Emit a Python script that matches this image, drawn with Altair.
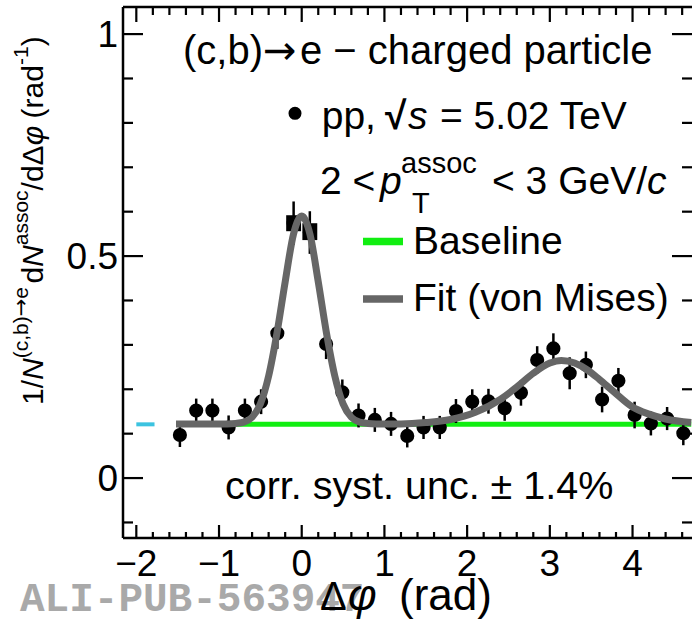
import altair as alt
import pandas as pd

# ---------------------------------------------------------------------------
# Data: (c,b)->e - charged particle azimuthal correlation, pp 5.02 TeV
# ---------------------------------------------------------------------------
dphi = [-1.473, -1.276, -1.080, -0.884, -0.687, -0.491, -0.295, -0.098,
        0.098, 0.295, 0.491, 0.687, 0.884, 1.080, 1.276, 1.473,
        1.669, 1.865, 2.062, 2.258, 2.454, 2.651, 2.847, 3.043,
        3.240, 3.436, 3.632, 3.829, 4.025, 4.222, 4.418, 4.614]
yields = [0.097, 0.152, 0.152, 0.114, 0.152, 0.172, 0.326, 0.574,
          0.553, 0.302, 0.193, 0.141, 0.131, 0.122, 0.095, 0.114,
          0.114, 0.151, 0.172, 0.173, 0.157, 0.192, 0.266, 0.292,
          0.236, 0.255, 0.177, 0.219, 0.142, 0.123, 0.134, 0.101]
stat_err = [0.027, 0.027, 0.027, 0.027, 0.027, 0.028, 0.035, 0.049,
            0.048, 0.034, 0.029, 0.027, 0.027, 0.027, 0.026, 0.026,
            0.026, 0.027, 0.028, 0.028, 0.028, 0.029, 0.031, 0.034,
            0.036, 0.030, 0.029, 0.029, 0.030, 0.027, 0.026, 0.027]

# systematic boxes large enough to stand out of the markers (near-side peak)
syst_x = [-0.098, 0.098]
syst_lo = [0.556, 0.536]
syst_hi = [0.592, 0.574]
syst_half_width = 0.09

# von Mises fit curve
fit_x = [-1.52, -1.2, -0.9, -0.8, -0.7, -0.6, -0.5, -0.4, -0.3, -0.2, -0.1,
         0.0, 0.1, 0.2, 0.3, 0.4, 0.5, 0.6, 0.7, 0.8, 0.9, 1.2, 1.5, 1.8,
         2.1, 2.4, 2.6, 2.8, 3.0, 3.14, 3.3, 3.45, 3.6, 3.77, 4.0, 4.2,
         4.4, 4.71]
fit_y = [0.122, 0.122, 0.122, 0.123, 0.126, 0.137, 0.167, 0.230, 0.326,
         0.442, 0.549, 0.590, 0.549, 0.442, 0.326, 0.230, 0.167, 0.137,
         0.126, 0.123, 0.122, 0.122, 0.125, 0.132, 0.148, 0.177, 0.205,
         0.236, 0.259, 0.265, 0.259, 0.244, 0.222, 0.195, 0.160, 0.144,
         0.133, 0.125]

# baseline level of the fit and its range
baseline_level = 0.121
baseline_range = [-1.52, 4.71]
baseline_marker_range = [-2.0, -1.78]

# axis ticks and their labels
x_major = [-2, -1, 0, 1, 2, 3, 4]
x_labels = ["−2", "−1", "0", "1", "2", "3", "4"]
x_minor = [-1.8, -1.6, -1.4, -1.2, -0.8, -0.6, -0.4, -0.2, 0.2, 0.4, 0.6,
           0.8, 1.2, 1.4, 1.6, 1.8, 2.2, 2.4, 2.6, 2.8, 3.2, 3.4, 3.6, 3.8,
           4.2, 4.4, 4.6]
y_major = [0, 0.5, 1]
y_labels = ["0", "0.5", "1"]
y_minor = [-0.1, 0.1, 0.2, 0.3, 0.4, 0.6, 0.7, 0.8, 0.9]

# ---------------------------------------------------------------------------
# Layout
# ---------------------------------------------------------------------------
PAD_L, PAD_T, PAD_B = 123, 7, 85
W, H = 569, 531
FONT = "Liberation Sans"
ARROW_FONT = "DejaVu Sans"
GRAY = "#666666"
GREEN = "#11ee11"

xs = alt.Scale(domain=[-2.161, 4.719], nice=False, zero=False)
ys = alt.Scale(domain=[-0.135, 1.061], nice=False, zero=False)

pts = pd.DataFrame({"dphi": dphi, "val": yields, "err": stat_err})
pts["lo"] = pts["val"] - pts["err"]
pts["hi"] = pts["val"] + pts["err"]

syst = pd.DataFrame({"x": syst_x, "lo": syst_lo, "hi": syst_hi})
syst["x1"] = syst["x"] - syst_half_width
syst["x2"] = syst["x"] + syst_half_width

fit = pd.DataFrame({"x": fit_x, "y": fit_y})
base = pd.DataFrame({"x": [baseline_range[0]], "x2": [baseline_range[1]],
                     "y": [baseline_level]})
base_mark = pd.DataFrame({"x": [baseline_marker_range[0]],
                          "x2": [baseline_marker_range[1]],
                          "y": [baseline_level]})

one = pd.DataFrame({"k": [0]})


def txt(s, x, y, size=39, italic=False, angle=0, color="black",
        font=FONT, bold=False):
    """Text placed at absolute page pixel (x = left, y = baseline)."""
    return alt.Chart(pd.DataFrame({"t": [s]})).mark_text(
        align="left", baseline="alphabetic", fontSize=size, font=font,
        fontStyle="italic" if italic else "normal",
        fontWeight="bold" if bold else "normal",
        angle=angle, color=color,
    ).encode(text="t:N", x=alt.value(x - PAD_L), y=alt.value(y - PAD_T))


layers = []

# baseline of the fit and its short marker on the left
layers.append(alt.Chart(base).mark_rule(strokeWidth=5, color=GREEN).encode(
    x=alt.X("x:Q", scale=xs, axis=None), x2="x2:Q",
    y=alt.Y("y:Q", scale=ys, axis=None)))
layers.append(alt.Chart(base_mark).mark_rule(strokeWidth=4, color="#3cc3e0").encode(
    x=alt.X("x:Q", scale=xs, axis=None), x2="x2:Q",
    y=alt.Y("y:Q", scale=ys, axis=None)))

# statistical error bars
layers.append(alt.Chart(pts).mark_rule(strokeWidth=2.5, color="black").encode(
    x=alt.X("dphi:Q", scale=xs, axis=None),
    y=alt.Y("lo:Q", scale=ys, axis=None), y2="hi:Q"))

# systematic boxes
layers.append(alt.Chart(syst).mark_rect(color="black").encode(
    x=alt.X("x1:Q", scale=xs, axis=None), x2="x2:Q",
    y=alt.Y("lo:Q", scale=ys, axis=None), y2="hi:Q"))

# data points
layers.append(alt.Chart(pts).mark_point(
    shape="circle", filled=True, size=200, color="black", opacity=1).encode(
    x=alt.X("dphi:Q", scale=xs, axis=None),
    y=alt.Y("val:Q", scale=ys, axis=None)))

# fit curve
layers.append(alt.Chart(fit).mark_line(
    interpolate="monotone", strokeWidth=7, color=GRAY, strokeCap="butt").encode(
    x=alt.X("x:Q", scale=xs, axis=None),
    y=alt.Y("y:Q", scale=ys, axis=None)))

# frame (left, top, bottom)
FW = 2.5
layers.append(alt.Chart(one).mark_rule(strokeWidth=FW, color="black").encode(
    x=alt.value(0), y=alt.value(0), y2=alt.value(H)))
layers.append(alt.Chart(one).mark_rule(strokeWidth=FW, color="black").encode(
    x=alt.value(0), x2=alt.value(W), y=alt.value(0)))
layers.append(alt.Chart(one).mark_rule(strokeWidth=FW, color="black").encode(
    x=alt.value(0), x2=alt.value(W), y=alt.value(H)))


# inward ticks on all four sides
def yticks(vals, x0, x1):
    return alt.Chart(pd.DataFrame({"v": vals})).mark_rule(
        strokeWidth=2.2, color="black").encode(
        y=alt.Y("v:Q", scale=ys, axis=None), x=alt.value(x0), x2=alt.value(x1))


def xticks(vals, y0, y1):
    return alt.Chart(pd.DataFrame({"v": vals})).mark_rule(
        strokeWidth=2.2, color="black").encode(
        x=alt.X("v:Q", scale=xs, axis=None), y=alt.value(y0), y2=alt.value(y1))


layers += [
    yticks(y_major, 0, 20), yticks(y_minor, 0, 10),
    yticks(y_major, W - 20, W), yticks(y_minor, W - 10, W),
    xticks(x_major, H, H - 13), xticks(x_minor, H, H - 6),
    xticks(x_major, 0, 15), xticks(x_minor, 0, 8),
]

# tick labels
layers.append(alt.Chart(pd.DataFrame({"v": x_major, "lab": x_labels})).mark_text(
    align="center", baseline="alphabetic", fontSize=37, font=FONT,
    color="black").encode(
    x=alt.X("v:Q", scale=xs, axis=None), y=alt.value(576 - PAD_T),
    text="lab:N"))
layers.append(alt.Chart(pd.DataFrame({"v": y_major, "lab": y_labels})).mark_text(
    align="right", baseline="alphabetic", fontSize=37, font=FONT,
    color="black", dy=12.5).encode(
    y=alt.Y("v:Q", scale=ys, axis=None), x=alt.value(118 - PAD_L),
    text="lab:N"))

# in-plot annotations
layers += [
    txt("(c,b)", 183, 63.5, size=40),
    txt("→", 263, 63.5, size=40, font=ARROW_FONT),
    txt("e − charged particle", 300, 63.5, size=40),
    txt("pp,", 321.7, 128.5),
    txt("√", 385, 128.5, bold=True),
    txt("s", 408, 128.5, italic=True),
    txt("= 5.02 TeV", 440, 128.5),
    txt("2 <", 320, 193.5),
    txt("p", 380, 193.5, italic=True),
    txt("assoc", 401, 173, size=29),
    txt("T", 412, 213, size=29),
    txt("< 3 GeV/", 492, 193.5),
    txt("c", 647, 193.5, italic=True),
    txt("Baseline", 413, 253.5),
    txt("Fit (von Mises)", 413, 310.5),
    txt("corr. syst. unc. ± 1.4%", 225, 498.5, size=39.5),
]

# legend samples
layers.append(alt.Chart(one).mark_point(
    shape="circle", filled=True, size=170, color="black", opacity=1).encode(
    x=alt.value(295 - PAD_L), y=alt.value(113.3 - PAD_T)))
layers.append(alt.Chart(one).mark_rule(strokeWidth=7.5, color=GREEN).encode(
    x=alt.value(363 - PAD_L), x2=alt.value(403 - PAD_L),
    y=alt.value(241.5 - PAD_T)))
layers.append(alt.Chart(one).mark_rule(strokeWidth=7.5, color=GRAY).encode(
    x=alt.value(363 - PAD_L), x2=alt.value(403 - PAD_L),
    y=alt.value(299 - PAD_T)))

# publication stamp
layers.append(txt("ALI-PUB-563947", 20, 611, size=41, color="#a9a9a9",
                  font="Liberation Mono", bold=True))

# x-axis title
layers += [
    txt("Δ", 320, 610, size=40),
    txt("φ", 348, 610, size=44, italic=True),
    txt("(rad)", 399, 610, size=44),
]

# y-axis title, written bottom to top
YB, YS = 43, 28
layers += [
    txt("1/", YB, 405, size=30, angle=270),
    txt("N", YB, 380, size=30, italic=True, angle=270),
    txt("(c,b)", YS, 358.3, size=21, angle=270),
    txt("→", YS, 316.3, size=21, angle=270, font=ARROW_FONT),
    txt("e", YS, 298.7, size=21, angle=270),
    txt("d", YB, 283.6, size=30, angle=270),
    txt("N", YB, 266.9, size=30, italic=True, angle=270),
    txt("assoc", YS, 245.3, size=21, angle=270),
    txt("/dΔ", YB, 190.4, size=30, angle=270),
    txt("φ", YB, 145.3, size=30, italic=True, angle=270),
    txt("(rad", YB, 118.4, size=30, angle=270),
    txt("-1", YS, 65, size=21, angle=270),
    txt(")", YB, 46.3, size=30, angle=270),
]

chart = alt.layer(*layers).properties(
    width=W, height=H,
    autosize=alt.AutoSizeParams(type="none"),
    padding={"left": PAD_L, "top": PAD_T, "right": 0, "bottom": PAD_B},
).configure_view(stroke=None)

chart.save("out.html", embed_options={"renderer": "svg", "actions": False})
